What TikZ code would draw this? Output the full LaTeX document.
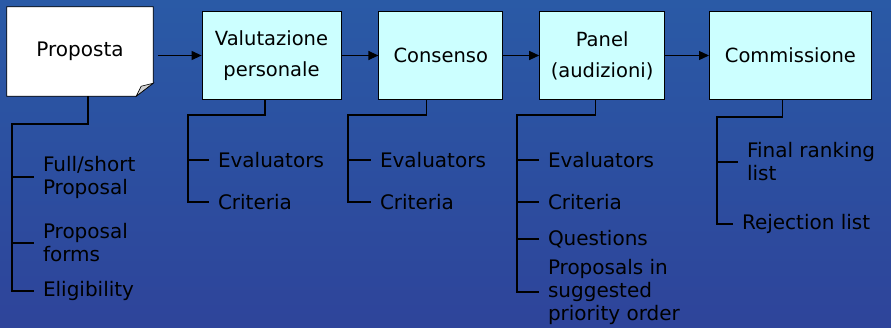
\documentclass[tikz,border=0pt]{standalone}
\usepackage{fontspec}
\setmainfont{DejaVu Sans}
\usetikzlibrary{arrows.meta,positioning}
\pgfdeclarelayer{bg}
\pgfdeclarelayer{paper}
\pgfsetlayers{bg,paper,main}

\definecolor{bgtop}{RGB}{42,90,166}
\definecolor{bgbot}{RGB}{46,68,154}
\definecolor{stagefill}{RGB}{204,255,255}

\begin{document}
\begin{tikzpicture}[x=1pt,y=-1pt,>={Triangle[length=10pt,width=9pt]},
   stage/.style={draw,fill=stagefill,line width=0.8pt,minimum height=88pt,
                 align=center,font=\fontsize{19.5}{31}\selectfont},
   item/.style={anchor=west,inner sep=0pt,outer xsep=9pt,align=left,
                font=\fontsize{20}{23}\selectfont},
   tree/.style={line width=1.2pt}]

   % background
   \begin{pgfonlayer}{bg}
   \shade[top color=bgtop,bottom color=bgbot] (0,0) rectangle (891,327);
   \end{pgfonlayer}
   \useasboundingbox (0,0) rectangle (891,327);

   % stages
   \node[minimum width=146pt,minimum height=89pt,font=\fontsize{20}{31}\selectfont]
                               (prop) at (80,51.5)     {Proposta};
   \node[stage,minimum width=139pt] (val) at (271.5,55.5) {Valutazione\\personale};
   \node[stage,minimum width=124pt] (cons) [right=37pt of val] {Consenso};
   \node[stage,minimum width=125pt] (panel) [right=36pt of cons] {Panel\\(audizioni)};
   \node[stage,minimum width=162pt] (comm) [right=44pt of panel] {Commissione};

   % folded sheet
   \begin{pgfonlayer}{paper}
   \filldraw[fill=white,line width=0.8pt] (prop.north west) -- (prop.north east)
      -- ([yshift=13pt]prop.south east) -- ([xshift=-17pt]prop.south east)
      -- (prop.south west) -- cycle;
   \filldraw[fill=gray!35,line width=0.6pt] ([xshift=-17pt]prop.south east)
      -- ([yshift=13pt]prop.south east) -- ([xshift=-12pt,yshift=10pt]prop.south east) -- cycle;
   \end{pgfonlayer}

   \draw[->,line width=1.2pt,shorten <=5pt] (prop.east |- val.west) -- (val.west);
   \draw[->,line width=1.2pt] (val) -- (cons);
   \draw[->,line width=1.2pt] (cons) -- (panel);
   \draw[->,line width=1.2pt] (panel) -- (comm);

   % Proposta
   \coordinate (p0) at (12,124);
   \node[item] (p1) at (34,177) {Full/short\\Proposal};
   \node[item] (p2) at (34,243) {Proposal\\forms};
   \node[item] (p3) at (34,291) {Eligibility};
   \draw[tree] ([xshift=8pt]prop.south) |- (p0) |- (p3);
   \draw[tree] (p0 |- p1) -- (p1);
   \draw[tree] (p0 |- p2) -- (p2);

   % Valutazione
   \coordinate (v0) at (188,115);
   \node[item] (v1) at (209,160) {Evaluators};
   \node[item] (v2) at (209,202) {Criteria};
   \draw[tree] ([xshift=-6.5pt]val.south) |- (v0) |- (v2);
   \draw[tree] (v0 |- v1) -- (v1);

   % Consenso
   \coordinate (c0) at (348,115);
   \node[item] (c1) at (371,160) {Evaluators};
   \node[item] (c2) at (371,202) {Criteria};
   \draw[tree] ([xshift=-14pt]cons.south) |- (c0) |- (c2);
   \draw[tree] (c0 |- c1) -- (c1);

   % Panel
   \coordinate (q0) at (517,115);
   \node[item] (q1) at (539,160) {Evaluators};
   \node[item] (q2) at (539,202) {Criteria};
   \node[item] (q3) at (539,239) {Questions};
   \node[item] (q4) at (539,292) {Proposals in\\suggested\\priority order};
   \draw[tree] ([xshift=-6.5pt]panel.south) |- (q0) |- (q4);
   \draw[tree] (q0 |- q1) -- (q1);
   \draw[tree] (q0 |- q2) -- (q2);
   \draw[tree] (q0 |- q3) -- (q3);

   % Commissione
   \coordinate (k0) at (717,117);
   \node[item] (k1) at (738,162) {Final ranking\\list};
   \node[item] (k2) at (733,224) {Rejection list};
   \draw[tree] ([xshift=-8pt]comm.south) |- (k0) |- (k2);
   \draw[tree] (k0 |- k1) -- (k1);

\end{tikzpicture}
\end{document}
